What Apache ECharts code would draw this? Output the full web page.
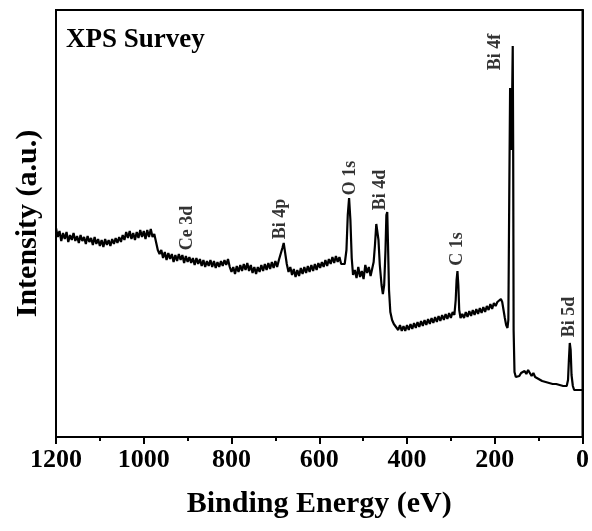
<!DOCTYPE html>
<html>
<head>
<meta charset="utf-8">
<script src="https://cdn.jsdelivr.net/npm/echarts@6/dist/echarts.min.js"></script>
<style>
	html, body { margin: 0; padding: 0; background: #fff; }
	#chart { width: 592px; height: 531px; }
</style>
</head>
<body>
<div id="chart"></div>
<script>
	/*binding energy (eV)*/
	var bindingEnergy = [
		1200,1196,1192,1188,1184,1180,1176,1172,1168,1164,
		1160,1156,1152,1148,1144,1140,1136,1132,1128,1124,
		1120,1116,1112,1108,1104,1100,1096,1092,1088,1084,
		1080,1076,1072,1068,1064,1060,1056,1052,1048,1044,
		1040,1036,1032,1028,1024,1020,1016,1012,1008,1004,
		1000,996,992,988,984,980,976,972,968,964,
		960,956,952,948,944,940,936,932,928,924,
		920,916,912,908,904,900,896,892,888,884,
		880,876,872,868,864,860,856,852,848,844,
		840,836,832,828,824,820,816,812,808,804,
		800,796,792,788,784,780,776,772,768,764,
		760,756,752,748,744,740,736,732,728,724,
		720,716,712,708,704,700,696,692,688,684,
		681,678,674,670,666,662,658,654,650,646,
		642,638,634,630,626,622,618,614,610,606,
		602,598,594,590,586,582,578,574,570,566,
		562,558,554,550,546,542,538,535,532,529,
		526,523,519,515,511,507,503,499,495,491,
		487,483,479,476,473,470,468,465,462,458,
		455,452,449,447,445,443,441,438,434,430,
		425,420,416,412,408,404,400,396,392,388,
		384,380,376,372,368,364,360,356,352,348,
		344,340,336,332,328,324,320,316,312,308,
		304,300,296,292,289,287,285,283,281,278,
		274,270,266,262,258,254,250,246,242,238,
		234,230,226,222,218,214,210,206,202,198,
		194,190,186,183,180,177,174,171,169,167,
		165,164,162,161,159,158,157,155,152,148,
		144,140,136,132,128,124,120,116,112,108,
		104,100,96,92,88,84,80,76,72,68,
		64,60,56,52,48,44,40,36,33,31,
		29,27,25,22,19,16,12,8,4,0
	];
	/*intensity (a.u.), same order as bindingEnergy*/
	var intensity = [
		209,200,206,196,204,198,205,195,202,197,
		204,196,201,194,202,196,200,193,201,195,
		199,192,200,193,198,191,197,190,198,192,
		197,191,198,193,199,194,200,195,202,197,
		205,199,206,198,204,197,205,199,207,200,
		206,198,207,200,208,200,203,195,187,183,
		187,179,185,177,184,178,183,175,182,176,
		183,177,182,174,181,175,180,174,179,172,
		179,173,178,171,177,170,176,171,177,170,
		176,169,175,170,176,171,177,172,178,170,
		165,170,163,171,165,172,166,173,167,174,
		166,172,164,170,163,170,165,172,166,173,
		167,174,168,175,169,176,170,177,179,189,
		194,185,173,165,170,162,168,160,167,161,
		169,163,170,164,171,165,172,166,173,167,
		174,169,175,170,177,171,178,173,180,174,
		181,175,180,173,171,173,187,222,239,217,
		179,162,167,159,170,160,166,158,172,164,
		170,161,169,175,192,213,215,197,172,152,
		143,152,187,222,225,187,147,125,117,113,
		110,107,112,106,111,106,112,107,113,108,
		114,109,115,110,116,111,117,112,118,113,
		119,114,120,115,121,116,122,117,123,118,
		124,119,125,122,137,157,166,152,127,119,
		123,119,125,120,126,121,127,122,128,123,
		129,124,130,125,131,127,133,128,134,131,
		135,137,138,135,127,119,112,109,117,237,
		349,342,287,317,391,287,107,65,60,62,
		61,64,62,66,63,67,64,61,64,60,
		62,58,60,56,58,55,57,54,56,53,
		55,53,54,52,53,51,52,51,57,77,
		94,87,62,51,47,46,47,48,47,47
	];
	/*peak assignments and where their labels sit*/
	var peakNames = ['Ce 3d', 'Bi 4p', 'O 1s', 'Bi 4d', 'C 1s', 'Bi 4f', 'Bi 5d'];
	var peakLabelEnergy = [901, 688, 530, 460, 285, 199, 29];
	var peakLabelLevel = [209, 218, 259, 247, 188, 385, 120];
	/*x axis ticks*/
	var xTicks = [0, 200, 400, 600, 800, 1000, 1200];

	var serif = "'Times New Roman', 'Liberation Serif', serif";

	var lineData = [];
	bindingEnergy.forEach(function (e, i) {
		lineData.push([e, intensity[i]]);
	});
	var labelData = [];
	peakNames.forEach(function (n, i) {
		labelData.push({ value: [peakLabelEnergy[i], peakLabelLevel[i]], name: n });
	});

	var chart = echarts.init(document.getElementById('chart'));
	chart.setOption({
		animation: false,
		backgroundColor: '#fff',
		title: {
			text: 'XPS Survey',
			left: 66,
			top: 27,
			padding: 0,
			textStyle: {
				fontFamily: serif,
				fontWeight: 'bold',
				fontSize: 27,
				color: '#000'
			}
		},
		grid: {
			left: 56,
			right: 5,
			top: 10,
			bottom: 94,
			show: true,
			borderColor: '#000',
			borderWidth: 2,
			containLabel: false
		},
		xAxis: {
			type: 'value',
			inverse: true,
			min: xTicks[0],
			max: xTicks[xTicks.length - 1],
			interval: 200,
			name: 'Binding Energy (eV)',
			nameLocation: 'middle',
			nameGap: 52,
			nameTextStyle: {
				fontFamily: serif,
				fontWeight: 'bold',
				fontSize: 30,
				color: '#000'
			},
			axisLine: { show: true, lineStyle: { color: '#000', width: 2 } },
			axisTick: { show: true, inside: false, length: 7, lineStyle: { color: '#000', width: 2 } },
			minorTick: { show: true, splitNumber: 2, length: 4, lineStyle: { color: '#000', width: 2 } },
			axisLabel: {
				margin: 10,
				fontFamily: serif,
				fontWeight: 'bold',
				fontSize: 26,
				color: '#000',
				showMinLabel: true,
				showMaxLabel: true,
				formatter: function (v) { return String(v); }
			},
			splitLine: { show: false }
		},
		yAxis: {
			type: 'value',
			min: 0,
			max: 427,
			name: 'Intensity (a.u.)',
			nameLocation: 'middle',
			nameGap: 13,
			nameTextStyle: {
				fontFamily: serif,
				fontWeight: 'bold',
				fontSize: 30,
				color: '#000'
			},
			axisLine: { show: true, lineStyle: { color: '#000', width: 2 } },
			axisTick: { show: false },
			axisLabel: { show: false },
			splitLine: { show: false }
		},
		series: [
			{
				name: 'survey',
				type: 'line',
				data: lineData,
				showSymbol: false,
				lineStyle: { color: '#000', width: 2.2 },
				z: 3
			},
			{
				name: 'peaks',
				type: 'scatter',
				data: labelData,
				symbolSize: 0,
				silent: true,
				label: {
					show: true,
					position: 'inside',
					rotate: 90,
					formatter: '{b}',
					fontFamily: serif,
					fontWeight: 'bold',
					fontSize: 18,
					color: '#000'
				},
				z: 4
			}
		]
	});
</script>
</body>
</html>
